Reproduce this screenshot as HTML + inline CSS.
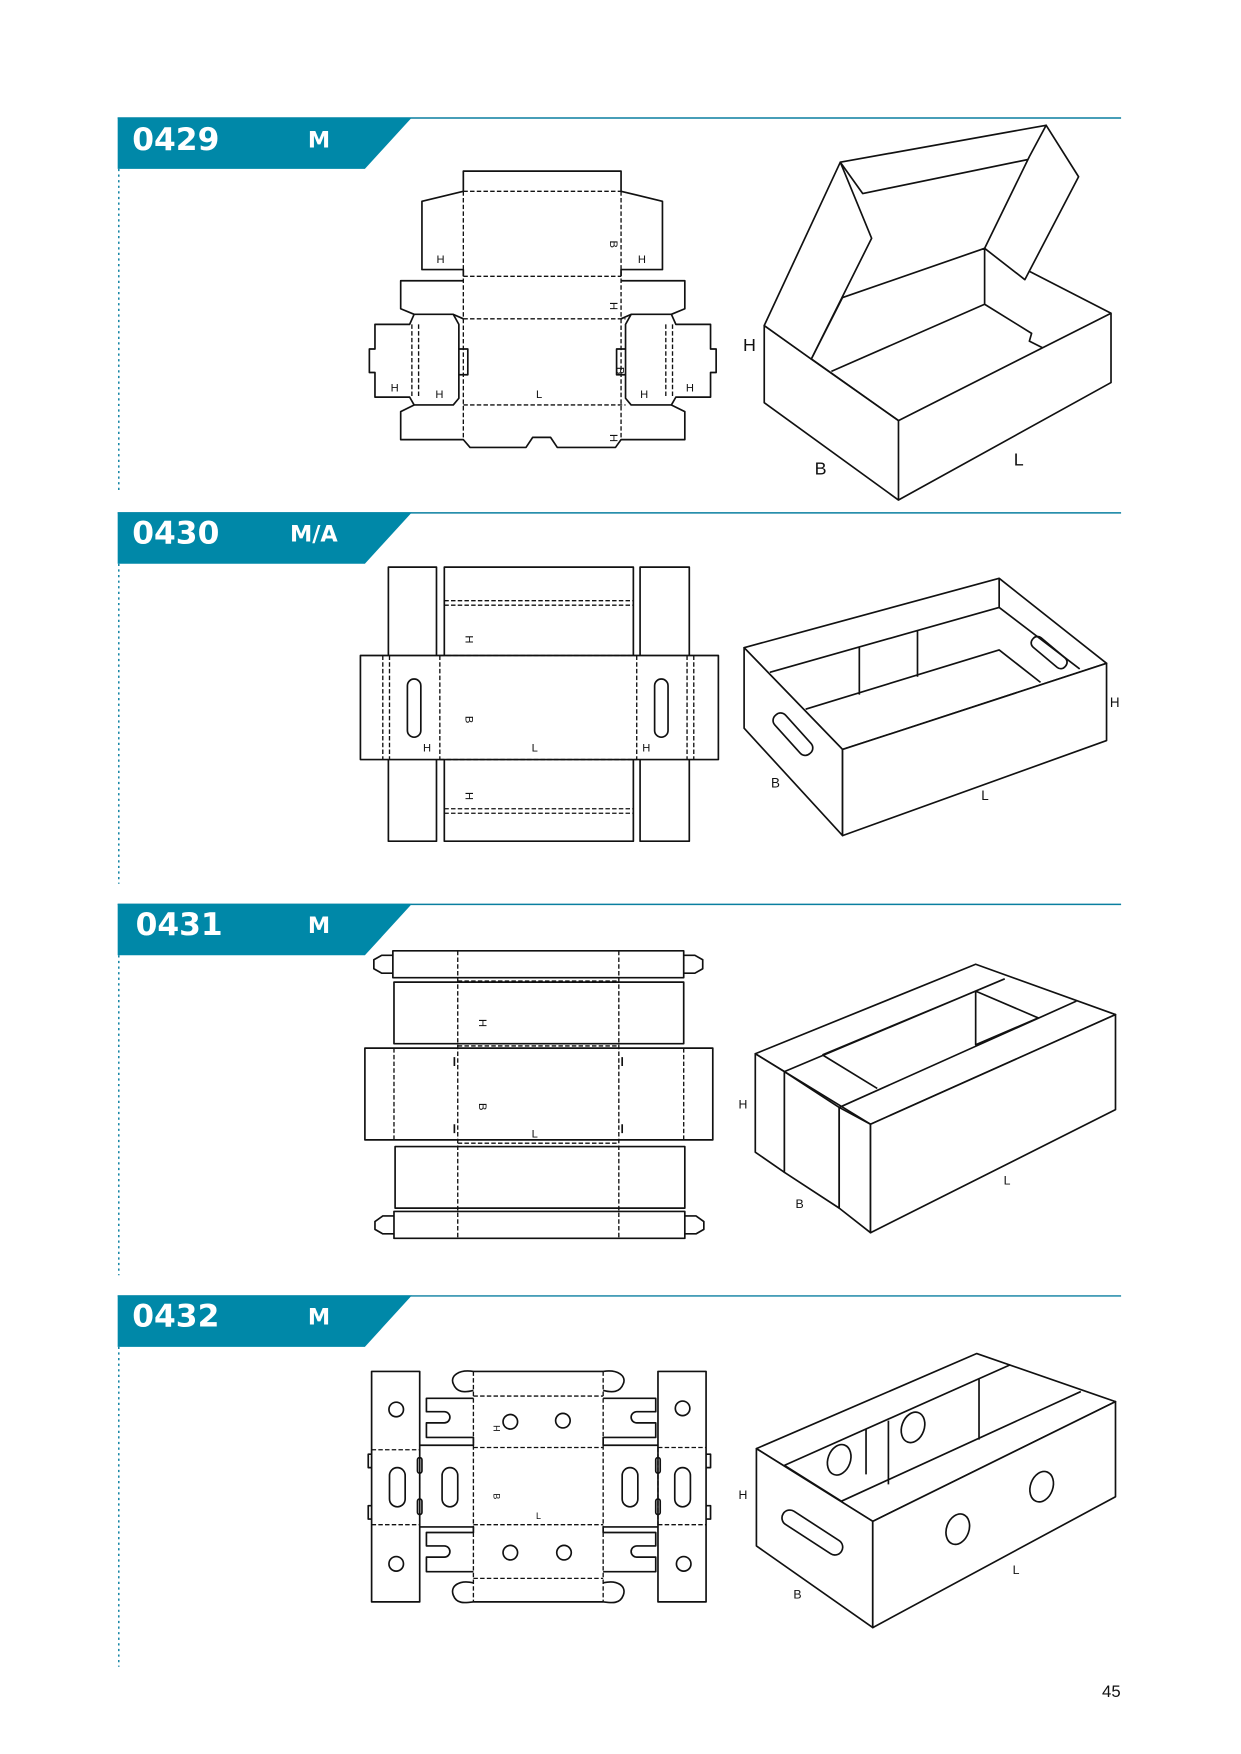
<!DOCTYPE html>
<html><head><meta charset="utf-8"><style>
html,body{margin:0;padding:0;background:#fff}
svg{display:block}
.o{fill:none;stroke:#111;stroke-width:1.5;stroke-linejoin:round}
.w{fill:#fff;stroke:#111;stroke-width:1.5;stroke-linejoin:round}
.d{fill:none;stroke:#111;stroke-width:1.2;stroke-dasharray:4 2}
.t{font-family:"Liberation Sans",sans-serif;fill:#111}
.h{font-family:"DejaVu Sans","Liberation Sans",sans-serif;font-weight:bold;fill:#fff}
</style></head><body>
<svg width="1241" height="1754" viewBox="0 0 1109 1568" xmlns="http://www.w3.org/2000/svg">
<!-- headers -->
<g>
<line x1="105" y1="105.5" x2="1002" y2="105.5" stroke="#0a7fa0" stroke-width="1.3"/>
<polygon points="105,105 368,105 326,151 105,151" fill="#0088a8"/>
<text x="118" y="134" class="h" font-size="28">0429</text><text x="275" y="132" class="h" font-size="20">M</text>
<line x1="106" y1="151" x2="106" y2="438" stroke="#0a7fa0" stroke-width="1.3" stroke-dasharray="2 3"/>

<line x1="105" y1="458.5" x2="1002" y2="458.5" stroke="#0a7fa0" stroke-width="1.3"/>
<polygon points="105,458 368,458 326,504 105,504" fill="#0088a8"/>
<text x="118" y="486" class="h" font-size="28">0430</text><text x="259" y="484" class="h" font-size="20">M/A</text>
<line x1="106" y1="504" x2="106" y2="790" stroke="#0a7fa0" stroke-width="1.3" stroke-dasharray="2 3"/>

<line x1="105" y1="808.5" x2="1002" y2="808.5" stroke="#0a7fa0" stroke-width="1.3"/>
<polygon points="105,808 368,808 326,854 105,854" fill="#0088a8"/>
<text x="121" y="836" class="h" font-size="28">0431</text><text x="275" y="834" class="h" font-size="20">M</text>
<line x1="106" y1="854" x2="106" y2="1140" stroke="#0a7fa0" stroke-width="1.3" stroke-dasharray="2 3"/>

<line x1="105" y1="1158.5" x2="1002" y2="1158.5" stroke="#0a7fa0" stroke-width="1.3"/>
<polygon points="105,1158 368,1158 326,1204 105,1204" fill="#0088a8"/>
<text x="118" y="1186" class="h" font-size="28">0432</text><text x="275" y="1184" class="h" font-size="20">M</text>
<line x1="106" y1="1204" x2="106" y2="1490" stroke="#0a7fa0" stroke-width="1.3" stroke-dasharray="2 3"/>
</g>

<!-- 0429 flat -->
<g>
<path class="o" d="M414,171 V153 H555 V171"/>
<path class="o" d="M414,171 L377,180 V241 H414 V247"/>
<path class="o" d="M555,171 L592,180 V241 H555 V247"/>
<path class="o" d="M414,251 H358 V276 L370,281 H405 L414,285"/>
<path class="o" d="M555,251 H612 V276 L600,281 H564 L555,285"/>
<path class="o" d="M370,281 L366,290 H335 V312 H330 V333 H335 V355 H366 L370,362 H405 L410,356 V290 L405,281"/>
<path class="o" d="M600,281 L604,290 H635 V312 H640 V333 H635 V355 H604 L600,362 H564 L559,356 V290 L564,281"/>
<path class="o" d="M410,312 H418 V335 H410"/><path class="o" d="M559,312 H551 V335 H559"/>
<path class="o" d="M370,362 L358,368 V393 H414 L420,400 H470 L476,391 H492 L498,400 H550 L555,393 H612 V368 L600,362"/>
<path class="d" d="M414,171 H555 M414,247 H555 M414,285 H559 M414,362 H559 M414,171 V393 M555,171 V393 M374,290 V356 M368,290 V356 M595,290 V356 M601,290 V356"/>
<g class="t" font-size="10"><text x="390" y="235">H</text><text x="570" y="235">H</text><text x="349" y="350">H</text><text x="389" y="356">H</text><text x="572" y="356">H</text><text x="613" y="350">H</text><text x="479" y="356">L</text>
<text x="540" y="216" transform="rotate(90 543 218)">B</text><text x="540" y="271" transform="rotate(90 543 273)">H</text><text x="546" y="329" transform="rotate(90 549 331)">B</text><text x="540" y="389" transform="rotate(90 543 391)">H</text></g>
</g>
<!-- 0429 3D -->
<g>
<path class="o" d="M880,222 L993,280"/>
<polygon class="w" points="683,291 803,376 993,280 993,342 803,447 683,360"/>
<path class="o" d="M803,376 V447"/>
<path class="o" d="M725,321 L753,266 L880,222 V272 L743,332 M880,272 L922,298 L920,305 L932,311"/>
<path class="o" d="M725,321 L803,376"/>
<polygon class="w" points="683,291 751,145 779,213 725,321"/>
<polygon class="w" points="751,145 935,112 941,138 771,173"/>
<polygon class="w" points="935,112 964,158 916,250 880,222 920,140"/>
<g class="t" font-size="16"><text x="664" y="314">H</text><text x="728" y="424">B</text><text x="906" y="416">L</text></g>
</g>

<!-- 0430 flat -->
<g>
<rect class="o" x="347" y="507" width="43" height="245"/>
<rect class="o" x="572" y="507" width="44" height="245"/>
<rect class="o" x="397" y="507" width="169" height="245"/>
<rect class="w" x="322" y="586" width="320" height="93"/>
<path class="d" d="M397,537 H566 M397,541 H566 M393,586 H569 M393,679 H569 M397,723 H566 M397,727 H566 M342,586 V679 M348,586 V679 M393,586 V679 M569,586 V679 M614,586 V679 M620,586 V679"/>
<rect class="o" x="364" y="607" width="12" height="52" rx="6"/>
<rect class="o" x="585" y="607" width="12" height="52" rx="6"/>
<g class="t" font-size="10"><text x="378" y="672">H</text><text x="574" y="672">H</text><text x="475" y="672">L</text>
<text x="411" y="569" transform="rotate(90 414 571)">H</text><text x="411" y="641" transform="rotate(90 414 643)">B</text><text x="411" y="709" transform="rotate(90 414 711)">H</text></g>
</g>
<!-- 0430 3D -->
<g>
<polygon class="w" points="665,579 893,517 989,593 753,670"/>
<polygon class="w" points="665,579 753,670 753,747 665,651"/>
<polygon class="w" points="753,670 989,593 989,662 753,747"/>
<path class="o" d="M688,601 L893,543 V517 M893,543 L965,598 M720,634 L893,581 L930,610 M768,578 V621 M820,563 V605"/>
<rect class="o" x="686" y="650" width="46" height="13" rx="6" transform="rotate(48 709 656)"/>
<rect class="o" x="919" y="578" width="38" height="11" rx="5" transform="rotate(40 938 583)"/>
<g class="t" font-size="12"><text x="992" y="632">H</text><text x="689" y="704">B</text><text x="877" y="715">L</text></g>
</g>

<!-- 0431 flat -->
<g>
<rect class="o" x="351" y="850" width="260" height="24"/>
<path class="o" d="M351,854 L341,854 L334,858 V866 L341,870 H351 M611,854 L621,854 L628,858 V866 L621,870 H611"/>
<rect class="o" x="352" y="878" width="259" height="55"/>
<rect class="w" x="326" y="937" width="311" height="82"/>
<rect class="o" x="353" y="1025" width="259" height="55"/>
<rect class="o" x="352" y="1083" width="260" height="24"/>
<path class="o" d="M352,1087 L342,1087 L335,1092 V1099 L342,1103 H352 M612,1087 L622,1087 L629,1092 V1099 L622,1103 H612"/>
<path class="d" d="M409,850 V1107 M553,850 V1107 M409,877 H553 M409,935 H553 M409,1022 H553 M409,1080 H553 M352,937 V1019 M611,937 V1019"/>
<path class="o" d="M406,945 V953 M406,1005 V1013 M556,945 V953 M556,1005 V1013"/>
<g class="t" font-size="10"><text x="475" y="1017">L</text>
<text x="423" y="912" transform="rotate(90 426 914)">H</text><text x="423" y="987" transform="rotate(90 426 989)">B</text></g>
</g>
<!-- 0431 3D -->
<g>
<polygon class="w" points="675,942 872,862 997,907 778,1005"/>
<path class="o" d="M701,958 L898,875 M750,990 L962,895 M735,943 L872,886 V934 L928,910 M872,886 L928,910 M735,943 L784,973"/>
<polygon class="w" points="675,942 701,958 701,1048 675,1030"/>
<polygon class="w" points="701,958 750,990 750,1080 701,1048"/>
<polygon class="w" points="750,990 778,1005 778,1102 750,1080"/>
<polygon class="w" points="778,1005 997,907 997,992 778,1102"/>
<g class="t" font-size="11"><text x="660" y="991">H</text><text x="711" y="1080">B</text><text x="897" y="1059">L</text></g>
</g>

<!-- 0432 flat -->
<g>
<rect class="o" x="332" y="1226" width="43" height="206"/>
<rect class="o" x="588" y="1226" width="43" height="206"/>
<path class="o" d="M332,1300 H329 V1312 H332 M332,1346 H329 V1358 H332 M631,1300 H635 V1312 H631 M631,1346 H635 V1358 H631"/>
<path class="o" d="M423,1226 H539 M423,1432 H539"/>
<path class="o" d="M423,1226 C410,1224 402,1230 405,1237 C408,1245 415,1245 423,1243 M539,1226 C552,1224 560,1230 557,1237 C554,1245 547,1245 539,1243"/>
<path class="o" d="M423,1415 C410,1412 402,1418 405,1426 C408,1434 415,1433 423,1432 M539,1415 C552,1412 560,1418 557,1426 C554,1434 547,1433 539,1432"/>
<path class="o" d="M423,1250 H381 V1262 H397 A5,5 0 0 1 397,1272 H381 V1285 H423 V1292 H375 M539,1250 H586 V1262 H569 A5,5 0 0 0 569,1272 H586 V1285 H539 V1292 H588"/>
<path class="o" d="M375,1365 H423 V1370 H381 V1382 H397 A5,5 0 0 1 397,1392 H381 V1405 H423 M588,1365 H539 V1370 H586 V1382 H569 A5,5 0 0 0 569,1392 H586 V1405 H539"/>
<path class="d" d="M423,1226 V1432 M539,1226 V1432 M423,1248 H539 M423,1294 H539 M423,1363 H539 M423,1411 H539 M332,1296 H375 M332,1363 H375 M588,1294 H631 M588,1363 H631 M375,1296 V1363 M588,1294 V1363"/>
<circle class="o" cx="354" cy="1260" r="6.5"/><circle class="o" cx="610" cy="1259" r="6.5"/>
<circle class="o" cx="354" cy="1398" r="6.5"/><circle class="o" cx="611" cy="1398" r="6.5"/>
<circle class="o" cx="456" cy="1271" r="6.5"/><circle class="o" cx="503" cy="1270" r="6.5"/>
<circle class="o" cx="456" cy="1388" r="6.5"/><circle class="o" cx="504" cy="1388" r="6.5"/>
<rect class="o" x="348" y="1312" width="14" height="35" rx="7"/><rect class="o" x="395" y="1312" width="14" height="35" rx="7"/>
<rect class="o" x="556" y="1312" width="14" height="35" rx="7"/><rect class="o" x="603" y="1312" width="14" height="35" rx="7"/>
<rect class="o" x="373" y="1303" width="4" height="14" rx="2"/><rect class="o" x="373" y="1340" width="4" height="14" rx="2"/>
<rect class="o" x="586" y="1303" width="4" height="14" rx="2"/><rect class="o" x="586" y="1340" width="4" height="14" rx="2"/>
<g class="t" font-size="8"><text x="479" y="1358">L</text>
<text x="436" y="1275" transform="rotate(90 439 1277)">H</text><text x="436" y="1336" transform="rotate(90 439 1338)">B</text></g>
</g>
<!-- 0432 3D -->
<g>
<polygon class="w" points="676,1295 873,1210 997,1253 780,1360"/>
<path class="o" d="M701,1310 L903,1220 M752,1342 L966,1244 M701,1310 L752,1342 M774,1277 V1318 M794,1270 V1327 M875,1233 V1287"/>
<polygon class="w" points="676,1295 780,1360 780,1455 676,1382"/>
<polygon class="w" points="780,1360 997,1253 997,1338 780,1455"/>
<ellipse class="o" cx="750" cy="1305" rx="10" ry="14" transform="rotate(20 750 1305)"/>
<ellipse class="o" cx="816" cy="1276" rx="10" ry="14" transform="rotate(20 816 1276)"/>
<ellipse class="o" cx="856" cy="1367" rx="10" ry="14" transform="rotate(20 856 1367)"/>
<ellipse class="o" cx="931" cy="1329" rx="10" ry="14" transform="rotate(20 931 1329)"/>
<rect class="o" x="695" y="1363" width="62" height="14" rx="7" transform="rotate(33 726 1370)"/>
<g class="t" font-size="11"><text x="660" y="1340">H</text><text x="709" y="1429">B</text><text x="905" y="1407">L</text></g>
</g>

<text x="985" y="1517" class="t" font-size="15">45</text>
</svg>
</body></html>
